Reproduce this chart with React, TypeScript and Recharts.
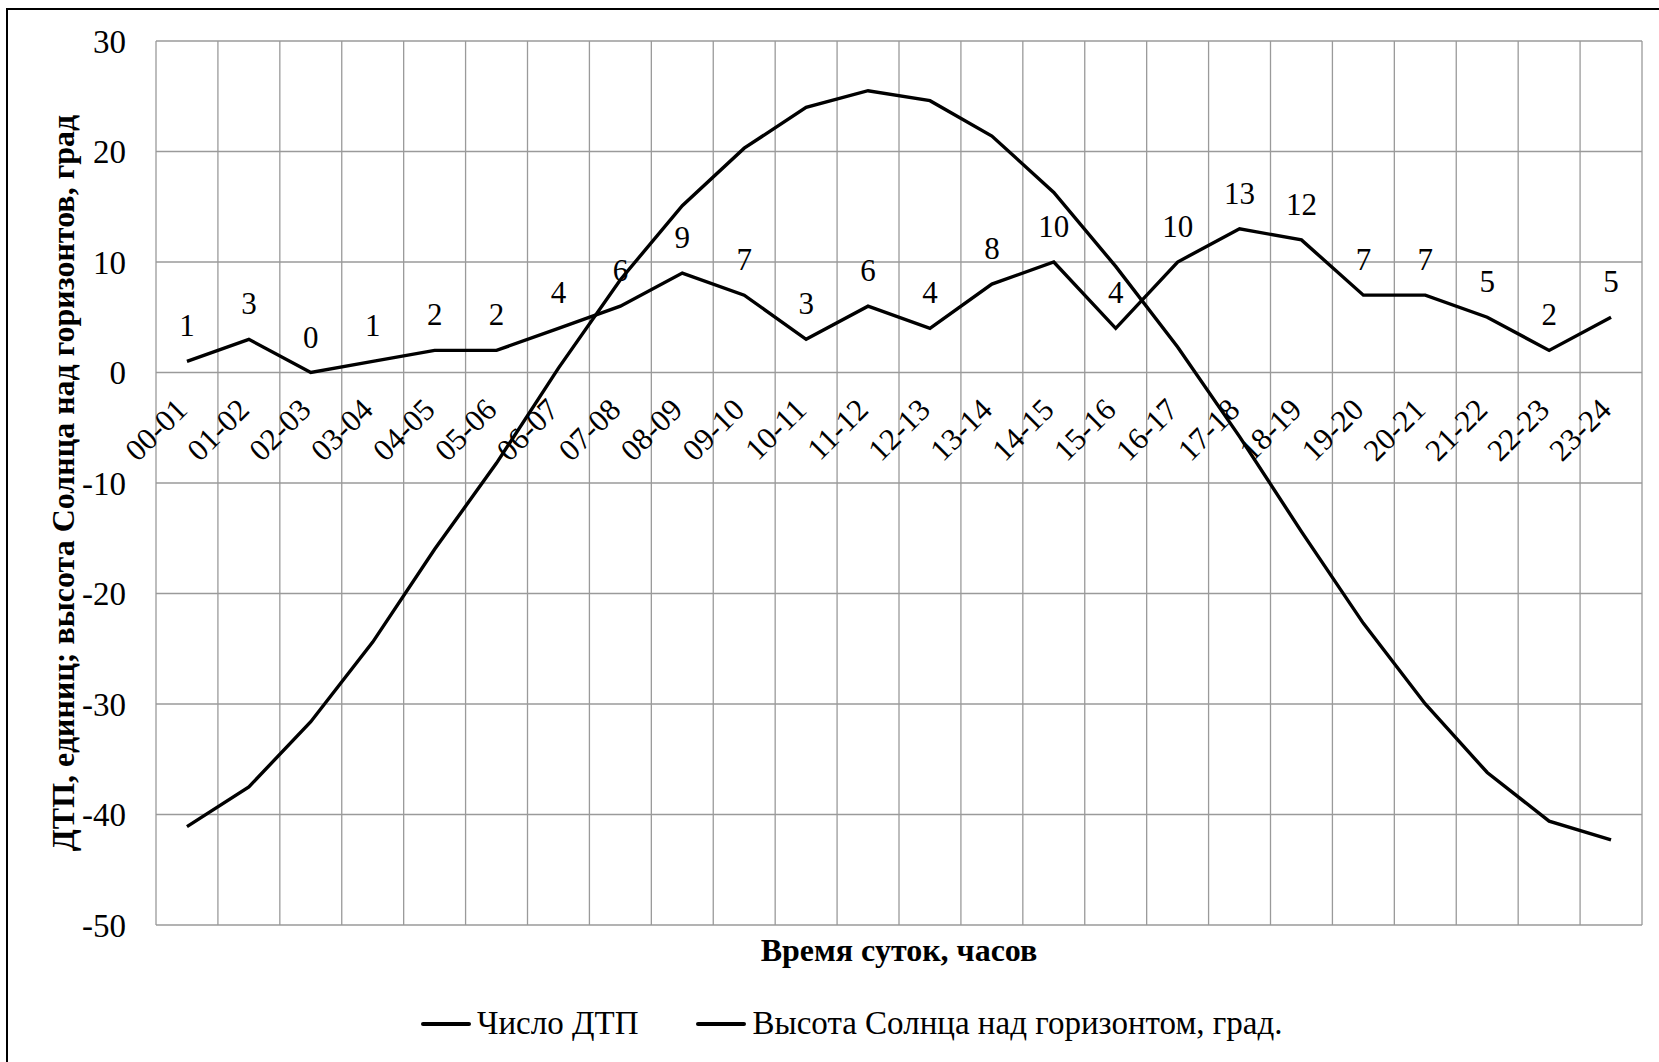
import { CartesianGrid, Label, LabelList, Line, LineChart, XAxis, YAxis } from "recharts"

const TIME = [
  "00-01", "01-02", "02-03", "03-04", "04-05", "05-06", "06-07", "07-08",
  "08-09", "09-10", "10-11", "11-12", "12-13", "13-14", "14-15", "15-16",
  "16-17", "17-18", "18-19", "19-20", "20-21", "21-22", "22-23", "23-24",
]
const DTP = [1, 3, 0, 1, 2, 2, 4, 6, 9, 7, 3, 6, 4, 8, 10, 4, 10, 13, 12, 7, 7, 5, 2, 5]
const SUN = [
  -41.1, -37.5, -31.6, -24.4, -16.0, -8.2, 0.4, 8.4, 15.1, 20.3, 24.0, 25.5,
  24.6, 21.4, 16.3, 9.6, 2.3, -5.8, -14.4, -22.7, -30.0, -36.2, -40.6, -42.3,
]
const Y_TICKS = [-50, -40, -30, -20, -10, 0, 10, 20, 30]

const W = 1659
const H = 1062
const MARGIN = { top: 41, right: 17, bottom: 97, left: 6 }
const X_AXIS_H = 40
const Y_AXIS_W = 150
const PLOT_TOP = MARGIN.top
const PLOT_H = H - MARGIN.top - MARGIN.bottom - X_AXIS_H
// category labels sit just under the zero line, like excel does
const ZERO_Y = PLOT_TOP + (30 / 80) * PLOT_H

const FONT = "Liberation Serif, Times New Roman, serif"

const data = TIME.map((t, i) => ({ time: t, dtp: DTP[i], sun: SUN[i] }))

function TimeTick({ x, payload }: { x?: number; payload?: { value: string } }) {
  const tx = (x ?? 0) + 2
  const ty = ZERO_Y + 39
  return (
    <text
      x={tx}
      y={ty}
      textAnchor="end"
      transform={`rotate(-45, ${tx}, ${ty})`}
      style={{ fontFamily: FONT, fontSize: 31 }}
      fill="#000"
    >
      {payload?.value}
    </text>
  )
}

export default function App() {
  return (
    <div
      style={{
        position: "absolute",
        left: 0,
        top: 0,
        width: W,
        height: H,
        overflow: "hidden",
        background: "#fff",
        fontFamily: FONT,
      }}
    >
      <div
        style={{
          position: "absolute",
          left: 6,
          top: 8,
          width: 1720,
          height: 1120,
          border: "2.5px solid #000",
        }}
      />
      <div style={{ position: "absolute", left: 0, top: 0 }}>
        <LineChart width={W} height={H} data={data} margin={MARGIN} style={{ fontFamily: FONT }}>
          <CartesianGrid
            stroke="#9a9a9a"
            strokeWidth={1.3}
            verticalCoordinatesGenerator={({ offset }: any) =>
              Array.from({ length: TIME.length + 1 }, (_, i) => offset.left + (i * offset.width) / TIME.length)
            }
          />
          <XAxis
            dataKey="time"
            scale="band"
            height={X_AXIS_H}
            axisLine={false}
            tickLine={false}
            interval={0}
            tick={<TimeTick />}
          >
            <Label
              value="Время суток, часов"
              position="insideTop"
              offset={13}
              style={{ fontFamily: FONT, fontSize: 32, fontWeight: "bold" }}
              fill="#000"
            />
          </XAxis>
          <YAxis
            width={Y_AXIS_W}
            domain={[-50, 30]}
            ticks={Y_TICKS}
            axisLine={false}
            tickLine={false}
            tickSize={0}
            tickMargin={30}
            tick={{ style: { fontFamily: FONT, fontSize: 33 }, fill: "#000" }}
          >
            <Label
              value="ДТП, единиц; высота Солнца над горизонтов, град"
              angle={-90}
              position="center"
              dx={-18}
              style={{ fontFamily: FONT, fontSize: 32, fontWeight: "bold" }}
              fill="#000"
            />
          </YAxis>
          <Line
            type="linear"
            dataKey="dtp"
            stroke="#000"
            strokeWidth={3.4}
            dot={false}
            isAnimationActive={false}
          >
            <LabelList
              dataKey="dtp"
              position="top"
              offset={25}
              style={{ fontFamily: FONT, fontSize: 31 }}
              fill="#000"
            />
          </Line>
          <Line
            type="linear"
            dataKey="sun"
            stroke="#000"
            strokeWidth={3.4}
            dot={false}
            isAnimationActive={false}
          />
        </LineChart>
      </div>
      <div
        style={{
          position: "absolute",
          left: 421,
          top: 1005,
          display: "flex",
          alignItems: "center",
          fontFamily: FONT,
          fontSize: 33,
          color: "#000",
          whiteSpace: "nowrap",
        }}
      >
        <LegendItem label="Число ДТП" />
        <span style={{ width: 58 }} />
        <LegendItem label="Высота Солнца над горизонтом, град." />
      </div>
    </div>
  )
}

function LegendItem({ label }: { label: string }) {
  return (
    <span style={{ display: "flex", alignItems: "center" }}>
      <span style={{ display: "inline-block", width: 50, height: 0, borderTop: "4px solid #000", borderRadius: 2 }} />
      <span style={{ marginLeft: 6 }}>{label}</span>
    </span>
  )
}
